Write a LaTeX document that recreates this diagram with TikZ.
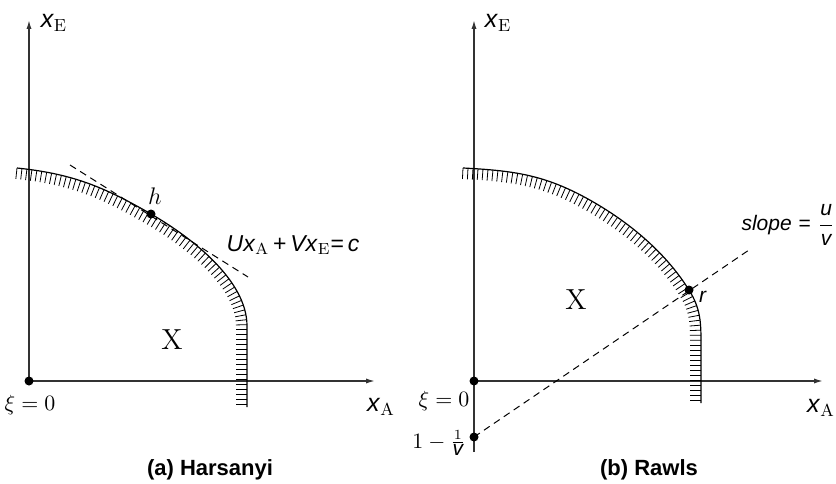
\documentclass[tikz,border=0pt]{standalone}
\usepackage{amsmath}
\usepackage{fontspec}
\setsansfont{Liberation Sans}
\usetikzlibrary{arrows.meta,decorations.markings}

\newcommand{\sfit}[1]{\textsf{\textit{#1}}}

\begin{document}
\begin{tikzpicture}[
  x=0.5pt, y=0.5pt,
  every node/.style={font=\fontsize{10.5}{12}\selectfont, inner sep=1pt},
  axislabel/.style={font=\fontsize{12.5}{14}\selectfont},
  axis/.style={line width=0.75pt, draw=black!80, -{Latex[length=4.5pt,width=2.6pt]}},
  frontier/.style={line width=0.6pt, postaction={decorate},
    decoration={markings, mark=between positions 0 and 1 step 2.5pt with
      {\draw[line width=0.4pt] (0pt,0pt) -- (0pt,-5.5pt);}}},
  guide/.style={line width=0.5pt, dash pattern=on 3.5pt off 2.5pt},
  dot/.style={circle, fill, inner sep=0pt, minimum size=4.5pt},
  caption/.style={font=\sffamily\bfseries\fontsize{11}{13}\selectfont},
]

\useasboundingbox (0,0) rectangle (836,483);

%% ── (a) Harsanyi ─────────────────────────────────────────────────────────
\begin{scope}[shift={(29,102)}]

  %% Axes
  \draw[axis] (0,0) -- (0,361);
  \draw[axis] (0,0) -- (346,0);
  \node[axislabel] (xEa) at (25,358) {\sfit{x}$_{\mathrm{E}}$};
  \node[axislabel] (xAa) at (352,-26) {\sfit{x}$_{\mathrm{A}}$};

  %% Origin
  \node[dot] (Oa) at (0,0) {};
  \node (xia) at (1,-24) {$\xi = 0$};

  %% Frontier of X
  \draw[frontier] (-12,213) to[out=-6,in=150] (122,167)
    to[out=-30,in=90,looseness=0.8] (218,55) -- (218,-26);
  \node[font=\fontsize{14.5}{16}\selectfont] (Xa) at (143,41) {X};

  %% Tangent at h
  \coordinate (ta) at (41,216);
  \coordinate (tb) at (219,104);
  \draw[guide] (ta) -- (tb);
  \node[dot] (h) at (122,167) {};
  \node[font=\fontsize{12}{14}\selectfont] (hl) at (126,185) {$h$};
  \node[font=\fontsize{11.5}{13}\selectfont] (iso) at (264,136)
    {\sfit{Ux}$_{\mathrm{A}}$\,\textsf{+}\,\sfit{Vx}$_{\mathrm{E}}$\textsf{=\,\textit{c}}};

  \node[caption] (capa) at (181,-89) {(a) Harsanyi};

\end{scope}

%% ── (b) Rawls ────────────────────────────────────────────────────────────
\begin{scope}[shift={(474,102)}]

  %% Axes
  \draw[axis] (0,-71) -- (0,361);
  \draw[axis] (0,0) -- (349,0);
  \node[axislabel] (xEb) at (24,358) {\sfit{x}$_{\mathrm{E}}$};
  \node[axislabel] (xAb) at (347,-27) {\sfit{x}$_{\mathrm{A}}$};

  %% Origin and intercept
  \node[dot] (Ob) at (0,0) {};
  \node (xib) at (-30,-20) {$\xi = 0$};
  \node[dot] (vb) at (0,-56) {};
  \node[inner sep=0pt] (vl) at (-35,-62) {$1 - \frac{1}{\mbox{\sffamily\itshape v}}$};

  %% Frontier of X
  \draw[frontier] (-11,213) to[out=-3,in=151] (114,182)
    to[out=-29,in=122,looseness=0.85] (215,91)
    to[out=-58,in=90] (227,40) -- (227,-22);
  \node[font=\fontsize{14.5}{16}\selectfont] (Xb) at (102,81) {X};

  %% Ray of slope u/v
  \coordinate (sb) at (275,131);
  \draw[guide] (vb.center) -- (sb);
  \node[dot] (r) at (215,91) {};
  \node (rl) at (229,84) {\sfit{r}};
  \node (sl) at (314,156) {\sfit{slope} \textsf{=} $\dfrac{\mbox{\sffamily\itshape u}}{\mbox{\sffamily\itshape v}}$};

  \node[caption] (capb) at (175,-89) {(b) Rawls};

\end{scope}

\end{tikzpicture}
\end{document}
